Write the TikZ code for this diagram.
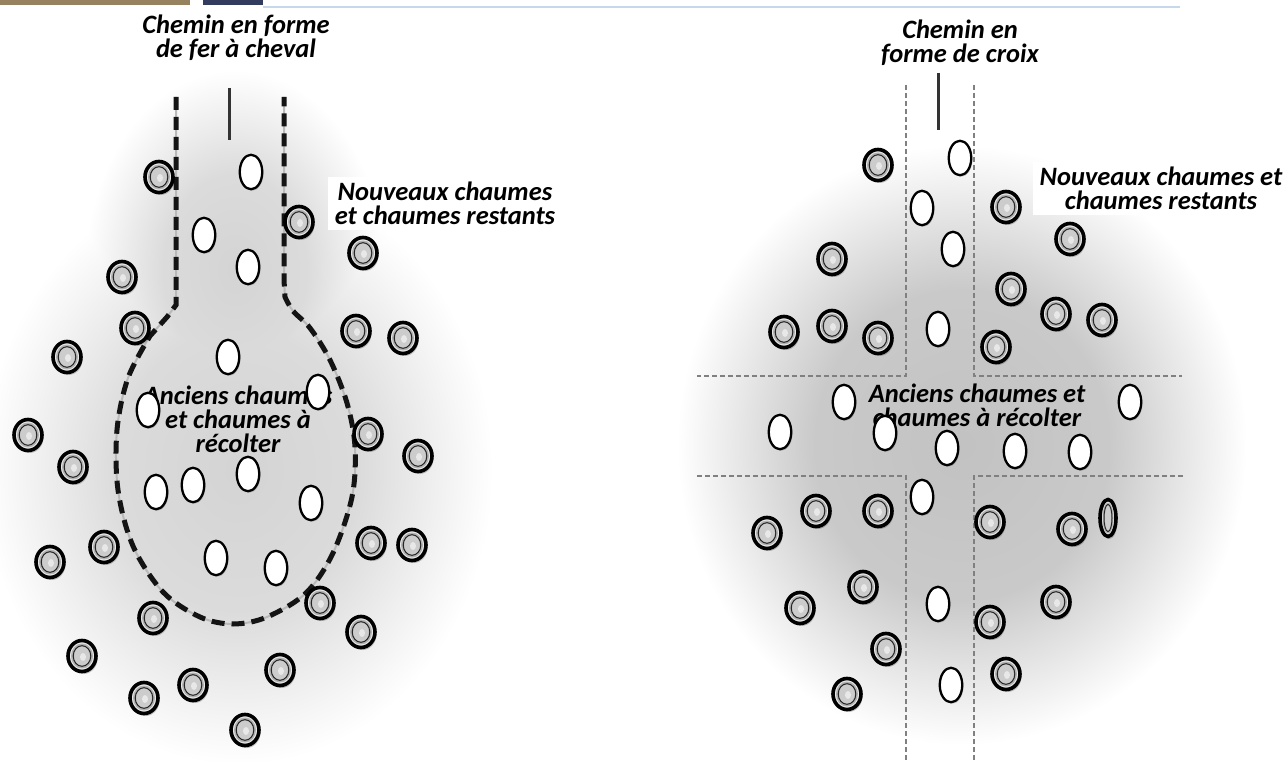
\documentclass[tikz,border=0pt]{standalone}
\usepackage{fontspec}
\setmainfont{Carlito}
\usetikzlibrary{shapes.geometric,shadows}
\pgfdeclareradialshading{blobL}{\pgfpoint{0bp}{0bp}}{color(0bp)=(black!17); color(12bp)=(black!14); color(25bp)=(white); color(50bp)=(white)}
\pgfdeclareradialshading{blobR}{\pgfpoint{0bp}{0bp}}{color(0bp)=(black!24); color(13bp)=(black!21); color(25bp)=(white); color(50bp)=(white)}
\definecolor{topblue}{RGB}{200,216,236}
\definecolor{topbrown}{RGB}{150,130,95}
\definecolor{topnavy}{RGB}{50,60,95}
\tikzset{
  lbl/.style={font=\fontsize{26.5}{24}\selectfont\bfseries\itshape, align=center, inner sep=0pt},
  ring/.style={ellipse, draw=black, line width=3.6pt, fill=gray!18, minimum width=28pt, minimum height=31pt, inner sep=0pt,
    drop shadow={shadow xshift=1.5pt, shadow yshift=-2.5pt, fill=black, opacity=0.22},
    path picture={
      \fill[gray!60] (path picture bounding box.center) ellipse (11pt and 12.5pt);
      \draw[black!85, line width=1pt] (path picture bounding box.center) ellipse (8.8pt and 10.3pt);
      \fill[gray!40] (path picture bounding box.center) ellipse (7.8pt and 9.3pt);
      \fill[gray!18] ([xshift=1pt,yshift=-1pt]path picture bounding box.center) ellipse (3pt and 4pt);}},
  narrowring/.style={ring, minimum width=16pt, minimum height=37pt,
    path picture={
      \fill[gray!60] (path picture bounding box.center) ellipse (5.5pt and 15.5pt);
      \draw[black!85, line width=1pt] (path picture bounding box.center) ellipse (4pt and 13.5pt);
      \fill[gray!40] (path picture bounding box.center) ellipse (3pt and 12.5pt);}},
  old/.style={ellipse, draw=black, line width=2.3pt, fill=white, minimum width=22.5pt, minimum height=34.5pt, inner sep=0pt,
    drop shadow={shadow xshift=1.2pt, shadow yshift=-1.5pt, fill=black, opacity=0.18}},
  horsebase/.style={draw=gray!55, line width=2pt},
  horse/.style={draw=black!92, line width=5pt, dash pattern=on 13pt off 7pt},
  crossline/.style={draw=black!50, line width=2.5pt, dash pattern=on 5pt off 3pt},
  pointer/.style={draw=black!80, line width=3pt},
}
\begin{document}
\begin{tikzpicture}[x=1pt,y=-1pt]
\useasboundingbox (0,0) rectangle (1286,762);
\fill[white] (0,0) rectangle (1286,762);
% background blobs
\begin{scope}[blend mode=darken]
\shade[shading=blobL] (238,470) ellipse [x radius=255, y radius=295];
\shade[shading=blobL] (235,270) ellipse [x radius=150, y radius=200];
\shade[shading=blobR] (962,445) ellipse [x radius=285, y radius=300];
\end{scope}
% top strip
\fill[topbrown] (0,0) rectangle (190,5);
\fill[topnavy] (203,0) rectangle (263,5);
\fill[topblue] (263,6) rectangle (1180,8);
% horseshoe path
\coordinate (hl) at (176,97);
\coordinate (hr) at (284,97);
\path[horsebase] (hl) -- (176,305) -- (167,317) -- plot[smooth, tension=0.55] coordinates {(150,336) (128,378) (117,430) (118,490) (133,546) (163,592) (200,617) (233,624) (267,617) (306,593) (333,553) (352,497) (355,447) (347,403) (330,360) (310,328) (293,311) (285,297)} -- (284,280) -- (hr);
\path[horse] (hl) -- (176,305) -- (167,317) -- plot[smooth, tension=0.55] coordinates {(150,336) (128,378) (117,430) (118,490) (133,546) (163,592) (200,617) (233,624) (267,617) (306,593) (333,553) (352,497) (355,447) (347,403) (330,360) (310,328) (293,311) (285,297)} -- (284,280) -- (hr);
% cross path
\coordinate (c1) at (906,85);
\coordinate (c2) at (974,85);
\path[crossline] (c1) -- (906,376) -- (697,376);
\path[crossline] (c2) -- (974,376) -- (1182,376);
\path[crossline] (697,476) -- (906,476) -- (906,762);
\path[crossline] (1183,476) -- (974,476) -- (974,762);
% titles and pointers (anchor base = baseline of the last line)
\node[lbl, anchor=base] (tL) at (236,58) {Chemin en forme\\de fer à cheval};
\node[lbl, anchor=base] (tR) at (960,63) {Chemin en\\forme de croix};
\coordinate (pL1) at (229,88); \coordinate (pL2) at (229,140);
\coordinate (pR1) at (938,73); \coordinate (pR2) at (938,130);
\path[pointer] (pL1) -- (pL2);
\path[pointer] (pR1) -- (pR2);
% old stubble labels (under the ellipses)
\node[lbl, anchor=base] (aL) at (238,452) {Anciens chaumes\\et chaumes à\\récolter};
\node[lbl, anchor=base] (aR) at (977,426) {Anciens chaumes et\\chaumes à récolter};
% old stubble (white)
\foreach \x/\y [count=\i] in {251/172, 204/235, 248/267, 228/357, 318/392, 148/410, 248/474, 193/485, 156/492, 311/503, 216/558, 276/568}
  \node[old] (oL\i) at (\x,\y) {};
\foreach \x/\y [count=\i] in {960/158, 922/208, 953/249, 938/329, 844/402, 780/432, 885/433, 947/448, 1015/451, 1080/452, 1130/402, 922/497, 938/604, 951/685}
  \node[old] (oR\i) at (\x,\y) {};
% new stubble (rings)
\foreach \x/\y [count=\i] in {159/177, 299/222, 363/253, 122/277, 135/328, 67/357, 356/331, 403/338, 28/435, 73/467, 368/434, 418/456, 104/547, 50/562, 371/543, 412/545, 153/618, 320/603, 361/632, 82/656, 280/670, 193/685, 144/698, 245/730}
  \node[ring] (nL\i) at (\x,\y) {};
\foreach \x/\y [count=\i] in {878/165, 1006/207, 1070/239, 832/259, 1011/289, 1056/314, 1102/320, 784/332, 832/326, 878/338, 996/347, 767/533, 816/511, 878/511, 990/522, 1072/529, 863/587, 800/608, 1056/602, 990/622, 886/649, 1006/674, 847/694}
  \node[ring] (nR\i) at (\x,\y) {};
\node[narrowring] (nR24) at (1108,518) {};
% new stubble labels
\node[lbl, anchor=base, fill=white, inner xsep=7pt, inner ysep=5pt] (nlL) at (445,225) {Nouveaux chaumes\\et chaumes restants};
\node[lbl, anchor=base, fill=white, inner xsep=7pt, inner ysep=5pt] (nlR) at (1161,210) {Nouveaux chaumes et\\chaumes restants};
\end{tikzpicture}
\end{document}
